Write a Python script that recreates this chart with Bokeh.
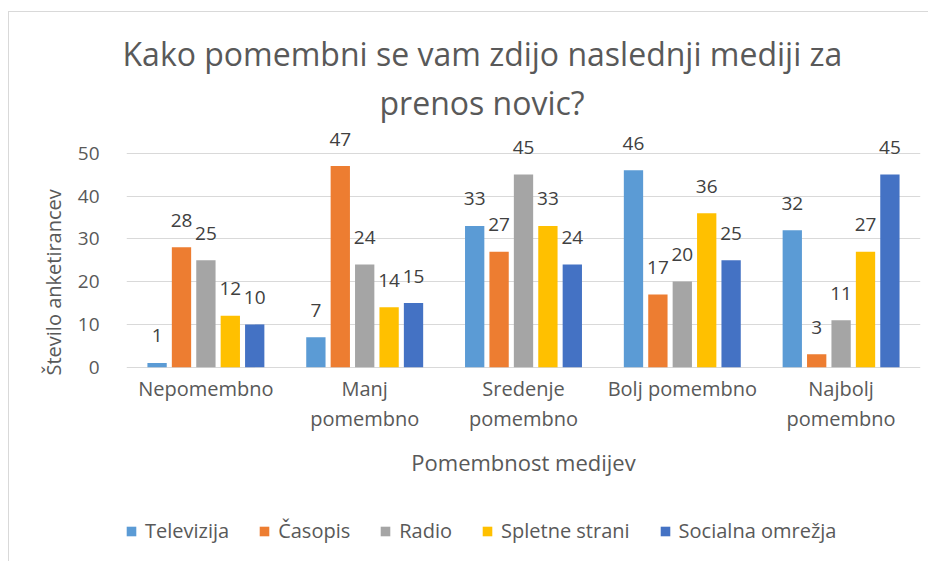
from bokeh.plotting import figure
from bokeh.models import FactorRange, Range1d, ColumnDataSource, FixedTicker, Title, Legend, LegendItem
from bokeh.transform import dodge
from bokeh.embed import file_html
from bokeh.resources import INLINE
from bokeh.core.properties import value

categories = ["Nepomembno", "Manj\npomembno", "Sredenje\npomembno", "Bolj pomembno", "Najbolj\npomembno"]
series_names = ["Televizija", "Časopis", "Radio", "Spletne strani", "Socialna omrežja"]
televizija = [1, 7, 33, 46, 32]
casopis = [28, 47, 27, 17, 3]
radio = [25, 24, 45, 20, 11]
spletne_strani = [12, 14, 33, 36, 27]
socialna_omrezja = [10, 15, 24, 25, 45]
y_ticks = [0, 10, 20, 30, 40, 50]

title_line1 = "Kako pomembni se vam zdijo naslednji mediji za"
title_line2 = "prenos novic?"
y_title = "Število anketirancev"
x_title = "Pomembnost medijev"

colors = ["#5B9BD5", "#ED7D31", "#A5A5A5", "#FFC000", "#4472C4"]
FONT = "Open Sans"
TXT = "#595959"

series_values = [televizija, casopis, radio, spletne_strani, socialna_omrezja]

p = figure(
    x_range=FactorRange(*categories, range_padding=0),
    y_range=Range1d(-45.16, 56.94),
    width=920, height=550,
    output_backend="svg", toolbar_location=None,
    min_border_left=117, min_border_right=9, min_border_top=111, min_border_bottom=2,
    title=None,
)
p.styles = {"margin-left": "8px", "margin-top": "11px",
            "border-left": "1px solid #D9D9D9", "border-top": "1px solid #D9D9D9"}
p.outline_line_color = None
p.background_fill_color = "white"
p.border_fill_color = "white"

step = 0.1537
bw = 0.1216
items = []
for i, (name, vals, col) in enumerate(zip(series_names, series_values, colors)):
    off = (i - 2) * step
    src = ColumnDataSource(dict(cat=categories, val=vals, lab=[str(v) for v in vals]))
    r = p.vbar(x=dodge("cat", off, range=p.x_range), top="val", width=bw, source=src,
               fill_color=col, line_color=None)
    p.text(x=dodge("cat", off, range=p.x_range), y="val", text="lab", source=src,
           text_align="center", text_baseline="alphabetic", y_offset=-27,
           text_font=value(FONT), text_font_size="19px", text_color="#404040")
    items.append(LegendItem(label=name, renderers=[r]))

# category labels (x axis) drawn at y = 0 through the categorical scale
cat_src = ColumnDataSource(dict(cat=categories, y=[0] * len(categories), lab=categories))
p.text(x="cat", y="y", text="lab", source=cat_src, text_align="center", text_baseline="top",
       y_offset=8, text_line_height=1.1, text_font=value(FONT), text_font_size="20px",
       text_color=TXT)
# x axis title, centred under the middle category
xt_src = ColumnDataSource(dict(cat=[categories[2]], y=[0], lab=[x_title]))
p.text(x="cat", y="y", text="lab", source=xt_src, text_align="center", text_baseline="top",
       y_offset=80, text_font=value(FONT), text_font_size="22px", text_color=TXT)

# titles
t2 = Title(text=title_line2, align="left", offset=253, standoff=0,
           text_font=FONT, text_font_size="32px", text_font_style="normal", text_color=TXT)
t1 = Title(text=title_line1, align="left", offset=-4, standoff=8,
           text_font=FONT, text_font_size="32px", text_font_style="normal", text_color=TXT)
p.add_layout(t2, "above")
p.add_layout(t1, "above")

# grid
p.xgrid.visible = False
p.ygrid.ticker = FixedTicker(ticks=y_ticks)
p.ygrid.grid_line_color = "#D9D9D9"
p.ygrid.grid_line_width = 1

# y axis
p.yaxis.ticker = FixedTicker(ticks=y_ticks)
p.yaxis.axis_line_color = None
p.yaxis.major_tick_line_color = None
p.yaxis.minor_tick_line_color = None
p.yaxis.major_label_standoff = 21
p.yaxis.major_label_text_font = FONT
p.yaxis.major_label_text_font_size = "19px"
p.yaxis.major_label_text_color = TXT

ty = Title(text=y_title, align="left", offset=185, standoff=16,
           text_font=FONT, text_font_size="20px", text_font_style="normal", text_color=TXT)
p.add_layout(ty, "left")

# x axis (labels drawn above as text)
p.xaxis.visible = False

legend = Legend(items=items, orientation="horizontal", location=(-1, 16),
                glyph_width=12, glyph_height=12, spacing=29, label_standoff=8,
                label_text_font=FONT, label_text_font_size="20px", label_text_color=TXT,
                border_line_color=None, background_fill_alpha=0, padding=0, margin=0)
p.add_layout(legend, "center")

open("out.html", "w").write(file_html(p, INLINE))
